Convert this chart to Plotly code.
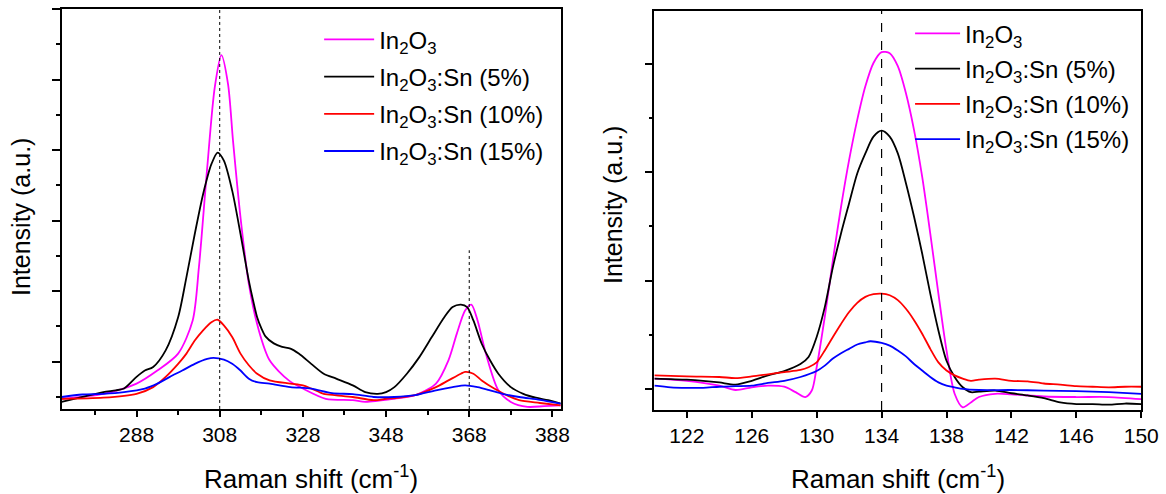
import plotly.graph_objects as go

# ---------------- Raman spectra, 270-390 cm^-1 window ----------------
x_in2o3_a = [270, 280, 288, 293, 298, 301.5, 303, 305, 306.8, 308.4, 310, 311.2, 313, 315,
             317.4, 320, 324.6, 328, 333.5, 340, 343, 350, 355, 360, 363, 365, 367, 368.5,
             370, 372, 375, 378, 382, 386, 390]
y_in2o3_a = [-0.05, 0.09, 0.38, 0.75, 1.23, 2.17, 3.68, 6.51, 8.77, 9.69, 8.87, 7.26, 5.09, 3.21,
             1.89, 1.04, 0.47, 0.24, -0.05, -0.09, -0.14, -0.05, 0.05, 0.38, 1.04, 1.79, 2.45, 2.62,
             2.17, 1.23, 0.19, -0.14, -0.28, -0.26, -0.24]

x_sn5_a = [270, 275, 280, 283, 285, 288, 290, 292, 295, 298, 300, 302, 304, 306, 307.5, 309,
           311, 313, 315, 316, 317, 318, 319, 321, 323, 325, 327, 330, 333, 336, 340, 343, 346,
           348, 350, 353, 356, 359, 362, 364, 366, 367.5, 369, 371, 373, 375, 378, 381, 384, 387, 390]
y_sn5_a = [-0.14, 0.0, 0.14, 0.19, 0.24, 0.57, 0.75, 0.85, 1.32, 2.26, 3.40, 4.62, 5.75, 6.60, 6.93,
           6.70, 5.85, 4.62, 3.30, 2.75, 2.26, 1.95, 1.72, 1.52, 1.42, 1.37, 1.23, 0.94, 0.66, 0.52,
           0.33, 0.14, 0.09, 0.14, 0.28, 0.66, 1.13, 1.70, 2.26, 2.55, 2.62, 2.55, 2.17, 1.51, 1.04,
           0.66, 0.28, 0.09, -0.02, -0.09, -0.19]

x_sn10_a = [270, 280, 288, 292, 295, 298, 300, 302, 304, 306, 307.5, 309, 311, 313, 315, 317,
            320, 325, 328, 330, 333, 336, 340, 345, 348, 350, 355, 360, 363, 366, 367, 369, 371,
            374, 377, 380, 385, 390]
y_sn10_a = [-0.05, -0.02, 0.09, 0.28, 0.57, 0.94, 1.23, 1.60, 1.89, 2.12, 2.19, 2.03, 1.70, 1.23,
            0.90, 0.66, 0.47, 0.38, 0.33, 0.24, 0.09, 0.05, 0.0, -0.09, -0.05, -0.03, 0.05, 0.28,
            0.47, 0.66, 0.71, 0.66, 0.47, 0.24, 0.05, -0.09, -0.17, -0.24]

x_sn15_a = [270, 275, 280, 285, 290, 293, 296, 299, 302, 305, 306.5, 309, 311, 313, 315, 317,
            320, 325, 330, 335, 340, 345, 350, 355, 360, 364, 367, 370, 373, 376, 380, 385, 390]
y_sn15_a = [0.0, 0.07, 0.09, 0.14, 0.24, 0.38, 0.57, 0.75, 0.94, 1.08, 1.11, 1.06, 0.94, 0.75,
            0.52, 0.42, 0.38, 0.28, 0.24, 0.11, 0.08, 0.0, 0.0, 0.05, 0.19, 0.28, 0.33, 0.28, 0.19,
            0.09, 0.0, -0.08, -0.19]

# ---------------- Raman spectra, 120-150 cm^-1 window ----------------
x_in2o3_b = [120, 122, 124, 125, 126, 127, 128, 128.7, 129.3, 129.7, 130, 130.5, 131, 131.5, 132,
             132.5, 133, 133.5, 134, 134.5, 135, 135.5, 136, 136.5, 137, 137.5, 138, 138.5, 139,
             139.5, 140, 141, 142, 144, 146, 148, 150]
y_in2o3_b = [0.19, 0.15, 0.06, -0.02, 0.03, 0.06, 0.04, -0.06, -0.15, -0.03, 0.40, 1.33, 2.38,
             3.36, 4.23, 4.97, 5.59, 6.02, 6.22, 6.20, 5.96, 5.46, 4.78, 3.92, 2.87, 1.76, 0.71,
             -0.09, -0.34, -0.25, -0.15, -0.09, -0.10, -0.14, -0.15, -0.15, -0.19]

x_sn5_b = [120, 122, 123, 124, 125, 126, 127, 128, 129, 129.5, 130, 130.5, 131, 131.5, 132, 132.5,
           133, 133.5, 134, 134.5, 135, 135.5, 136, 136.5, 137, 137.5, 138, 138.5, 139, 139.5,
           140, 141, 142, 143, 144, 145, 146, 147, 148, 149, 150]
y_sn5_b = [0.19, 0.17, 0.15, 0.12, 0.08, 0.15, 0.25, 0.33, 0.46, 0.59, 0.96, 1.51, 2.25, 2.87,
           3.43, 3.98, 4.35, 4.66, 4.77, 4.66, 4.35, 3.80, 3.18, 2.50, 1.76, 1.08, 0.52, 0.22,
           0.03, -0.06, -0.05, -0.03, -0.08, -0.12, -0.17, -0.25, -0.28, -0.28, -0.29, -0.27, -0.28]

x_sn10_b = [120, 122, 124, 125, 126, 127, 128, 129, 129.5, 130, 130.5, 131, 131.5, 132, 132.5,
            133, 133.5, 134, 134.5, 135, 135.5, 136, 136.5, 137, 137.5, 138, 138.5, 139, 139.5,
            140, 141, 142, 143, 144, 145, 146, 147, 148, 149, 150]
y_sn10_b = [0.25, 0.23, 0.22, 0.20, 0.23, 0.27, 0.31, 0.35, 0.40, 0.49, 0.71, 0.96, 1.20, 1.42,
            1.59, 1.70, 1.75, 1.76, 1.73, 1.64, 1.48, 1.27, 1.02, 0.74, 0.49, 0.34, 0.25, 0.19,
            0.15, 0.17, 0.19, 0.15, 0.14, 0.10, 0.08, 0.05, 0.04, 0.03, 0.04, 0.04]

x_sn15_b = [120, 121, 122, 123, 124, 125, 126, 127, 128, 129, 130, 130.5, 131, 131.5, 132, 132.5,
            133, 133.3, 134, 134.5, 135, 135.5, 136, 136.5, 137, 137.5, 138, 138.5, 139, 140, 142,
            144, 146, 148, 150]
y_sn15_b = [0.06, 0.03, 0.02, 0.02, 0.04, 0.05, 0.06, 0.11, 0.15, 0.22, 0.33, 0.43, 0.56, 0.66,
            0.74, 0.82, 0.86, 0.88, 0.85, 0.80, 0.71, 0.60, 0.46, 0.34, 0.22, 0.12, 0.06, 0.03,
            0.0, -0.02, -0.02, -0.03, -0.04, -0.06, -0.09]

series_names = ["In<sub>2</sub>O<sub>3</sub>",
                "In<sub>2</sub>O<sub>3</sub>:Sn (5%)",
                "In<sub>2</sub>O<sub>3</sub>:Sn (10%)",
                "In<sub>2</sub>O<sub>3</sub>:Sn (15%)"]
series_colors = ["#FF00FF", "#000000", "#FF0000", "#0000FF"]

left_ticks = [288, 308, 328, 348, 368, 388]
right_ticks = [122, 126, 130, 134, 138, 142, 146, 150]

FONT = "Arial, Liberation Sans, sans-serif"

fig = go.Figure()

left_sets = [(x_in2o3_a, y_in2o3_a), (x_sn5_a, y_sn5_a), (x_sn10_a, y_sn10_a), (x_sn15_a, y_sn15_a)]
right_sets = [(x_in2o3_b, y_in2o3_b), (x_sn5_b, y_sn5_b), (x_sn10_b, y_sn10_b), (x_sn15_b, y_sn15_b)]

for i, ((xs, ys), name, col) in enumerate(zip(left_sets, series_names, series_colors)):
    fig.add_trace(go.Scatter(x=xs, y=ys, mode="lines", name=name, legendgroup=f"a{i}",
                             line=dict(color=col, width=1.8, shape="spline", smoothing=0.8),
                             xaxis="x", yaxis="y", legend="legend"))

for i, ((xs, ys), name, col) in enumerate(zip(right_sets, series_names, series_colors)):
    fig.add_trace(go.Scatter(x=xs, y=ys, mode="lines", name=name, legendgroup=f"b{i}",
                             line=dict(color=col, width=1.8, shape="spline", smoothing=0.8),
                             xaxis="x2", yaxis="y2", legend="legend2"))

axis_common = dict(showline=True, linecolor="black", linewidth=1.6, mirror=True,
                   showgrid=False, zeroline=False, ticks="outside", tickcolor="black",
                   tickwidth=1.5, tickfont=dict(family=FONT, size=21, color="black"))

legend_common = dict(xanchor="left", yanchor="top", bgcolor="rgba(0,0,0,0)",
                     font=dict(family=FONT, size=24, color="black"),
                     traceorder="grouped")

fig.update_layout(
    width=1166, height=494,
    margin=dict(l=0, r=0, t=0, b=0, autoexpand=False),
    paper_bgcolor="white", plot_bgcolor="white",
    font=dict(family=FONT, color="black"),
    xaxis=dict(domain=[0.0529, 0.4809], range=[270, 390], tickvals=left_ticks, ticklen=6,
               minor=dict(dtick=10, tick0=278, ticklen=4, ticks="outside", tickcolor="black",
                          tickwidth=1.5),
               anchor="y", **axis_common),
    yaxis=dict(domain=[0.1721, 0.9818], range=[-0.34, 11.0], tick0=1, dtick=2, ticklen=8,
               showticklabels=False,
               minor=dict(dtick=2, tick0=0, ticklen=4, ticks="outside", tickcolor="black",
                          tickwidth=1.5),
               anchor="x", **axis_common),
    xaxis2=dict(domain=[0.5612, 0.9788], range=[120, 150], tickvals=right_ticks, ticklen=6,
                anchor="y2", **axis_common),
    yaxis2=dict(domain=[0.170, 0.9777], range=[-0.39, 6.98], tick0=0, dtick=2, ticklen=8,
                showticklabels=False,
                minor=dict(dtick=2, tick0=1, ticklen=4, ticks="outside", tickcolor="black",
                           tickwidth=1.5),
                anchor="x2", **axis_common),
    legend=dict(x=0.2737, y=0.965, itemwidth=50, tracegroupgap=3, **legend_common),
    legend2=dict(x=0.7805, y=0.977, itemwidth=45, tracegroupgap=1, **legend_common),
    showlegend=True,
)

# Reference positions of the main Raman modes
fig.add_shape(type="line", xref="x", yref="y", x0=308, x1=308, y0=-0.34, y1=11.0,
              line=dict(color="black", width=1, dash="dot"))
fig.add_shape(type="line", xref="x", yref="y", x0=368, x1=368, y0=-0.34, y1=4.16,
              line=dict(color="black", width=1, dash="dot"))
fig.add_shape(type="line", xref="x2", yref="y2", x0=134, x1=134, y0=-0.39, y1=6.98,
              line=dict(color="black", width=1.2, dash="dash"))

title_font = dict(family=FONT, size=25, color="black")
xtitle_font = dict(family=FONT, size=26, color="black")
fig.add_annotation(text="Intensity (a.u.)", xref="paper", yref="paper",
                   x=21 / 1166, y=1 - 217 / 494, textangle=-90, showarrow=False,
                   font=title_font, xanchor="center", yanchor="middle")
fig.add_annotation(text="Intensity (a.u.)", xref="paper", yref="paper",
                   x=613 / 1166, y=1 - 205 / 494, textangle=-90, showarrow=False,
                   font=title_font, xanchor="center", yanchor="middle")
fig.add_annotation(text="Raman shift (cm<sup>-1</sup>)", xref="paper", yref="paper",
                   x=311 / 1166, y=1 - 477 / 494, showarrow=False,
                   font=xtitle_font, xanchor="center", yanchor="middle")
fig.add_annotation(text="Raman shift (cm<sup>-1</sup>)", xref="paper", yref="paper",
                   x=898 / 1166, y=1 - 477 / 494, showarrow=False,
                   font=xtitle_font, xanchor="center", yanchor="middle")

fig.write_html("out.html", config={"responsive": False})
